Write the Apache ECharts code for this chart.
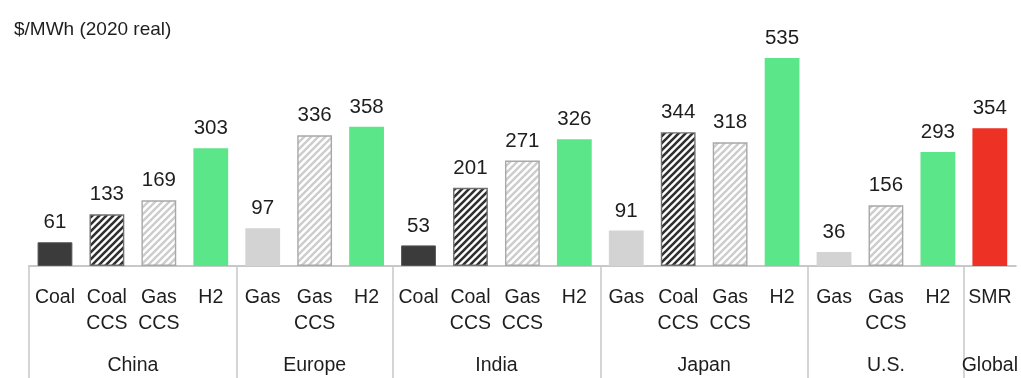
<!DOCTYPE html>
<html>
<head>
<meta charset="utf-8">
<script src="https://cdn.jsdelivr.net/npm/echarts@6/dist/echarts.min.js"></script>
<style>
  html, body { margin: 0; padding: 0; background: #fff; overflow: hidden; }
  #chart { width: 1021px; height: 378px; }
</style>
</head>
<body>
<div id="chart"></div>
<script>
// Levelized cost by technology and region, $/MWh (2020 real)
const techLabels = ['Coal', 'Coal\nCCS', 'Gas\nCCS', 'H2',
                    'Gas', 'Gas\nCCS', 'H2',
                    'Coal', 'Coal\nCCS', 'Gas\nCCS', 'H2',
                    'Gas', 'Coal\nCCS', 'Gas\nCCS', 'H2',
                    'Gas', 'Gas\nCCS', 'H2',
                    'SMR'];
const techKinds = ['coal', 'coalccs', 'gasccs', 'h2',
                   'gas', 'gasccs', 'h2',
                   'coal', 'coalccs', 'gasccs', 'h2',
                   'gas', 'coalccs', 'gasccs', 'h2',
                   'gas', 'gasccs', 'h2',
                   'smr'];
const costs = [61, 133, 169, 303,
               97, 336, 358,
               53, 201, 271, 326,
               91, 344, 318, 535,
               36, 156, 293,
               354];
const regionNames = ['China', 'Europe', 'India', 'Japan', 'U.S.', 'Global'];
const regionCounts = [4, 3, 4, 4, 3, 1];

const FONT = '"Liberation Sans", Arial, sans-serif';
const TEXT = '#1e1e1e';

function hatch(stroke, period, lineWidth) {
  const c = document.createElement('canvas');
  c.width = period; c.height = period;
  const g = c.getContext('2d');
  g.fillStyle = '#ffffff';
  g.fillRect(0, 0, period, period);
  g.strokeStyle = stroke;
  g.lineWidth = lineWidth;
  g.beginPath();
  g.moveTo(-2, period + 2); g.lineTo(period + 2, -2);
  g.moveTo(-2, 2); g.lineTo(2, -2);
  g.moveTo(period - 2, period + 2); g.lineTo(period + 2, period - 2);
  g.stroke();
  return { image: c, repeat: 'repeat' };
}

const styles = {
  coal:    { color: '#3b3b3b', borderColor: '#555', borderWidth: 1 },
  coalccs: { color: hatch('#303030', 7, 2.6), borderColor: '#707070', borderWidth: 1.4 },
  gasccs:  { color: hatch('#cdcdcd', 7, 2.4), borderColor: '#a8a8a8', borderWidth: 1.4 },
  gas:     { color: '#d3d3d3' },
  h2:      { color: '#5ce68a' },
  smr:     { color: '#ee3125' }
};

// Half-slot axis for the region row: region edges and centers fall on its points
const halfSlots = [];
const regionEdges = [0];
const regionCenters = {};
let pos = 0;
regionNames.forEach((name, i) => {
  regionCenters[pos + regionCounts[i]] = name;
  pos += regionCounts[i] * 2;
  regionEdges.push(pos);
});
for (let k = 0; k <= pos; k++) halfSlots.push(regionCenters[k] || '');

const chart = echarts.init(document.getElementById('chart'));
chart.setOption({
  animation: false,
  title: {
    text: '$/MWh (2020 real)',
    left: 9, top: 15,
    textStyle: { fontFamily: FONT, fontSize: 19, fontWeight: 'normal', color: TEXT }
  },
  grid: { left: 29, right: 0, top: 32.6, bottom: 112 },
  xAxis: [
    {
      type: 'category',
      data: techLabels,
      position: 'bottom',
      axisLine: { lineStyle: { color: '#c8c8c8', width: 2 } },
      axisTick: { length: 69, lineStyle: { color: '#c8c8c8', width: 1.5 } },
      axisLabel: {
        interval: 0, margin: 19, fontFamily: FONT, fontSize: 19.5,
        lineHeight: 26, color: TEXT, verticalAlign: 'top'
      }
    },
    {
      type: 'category',
      data: halfSlots,
      boundaryGap: false,
      position: 'bottom',
      axisLine: { show: false },
      axisTick: {
        length: 112,
        interval: (idx) => regionEdges.indexOf(idx) >= 0 && idx < pos,
        lineStyle: { color: '#c8c8c8', width: 1.5 }
      },
      axisLabel: {
        interval: (idx, val) => val !== '',
        hideOverlap: false,
        margin: 90, fontFamily: FONT, fontSize: 19.5, color: TEXT
      }
    }
  ],
  yAxis: { type: 'value', min: 0, max: 600, show: false },
  series: [{
    type: 'bar',
    xAxisIndex: 0,
    barWidth: '67%',
    data: costs.map((v, i) => ({ value: v, itemStyle: styles[techKinds[i]] })),
    label: {
      show: true, position: 'top', distance: 9,
      fontFamily: FONT, fontSize: 20.5, color: TEXT
    }
  }]
});
</script>
</body>
</html>
